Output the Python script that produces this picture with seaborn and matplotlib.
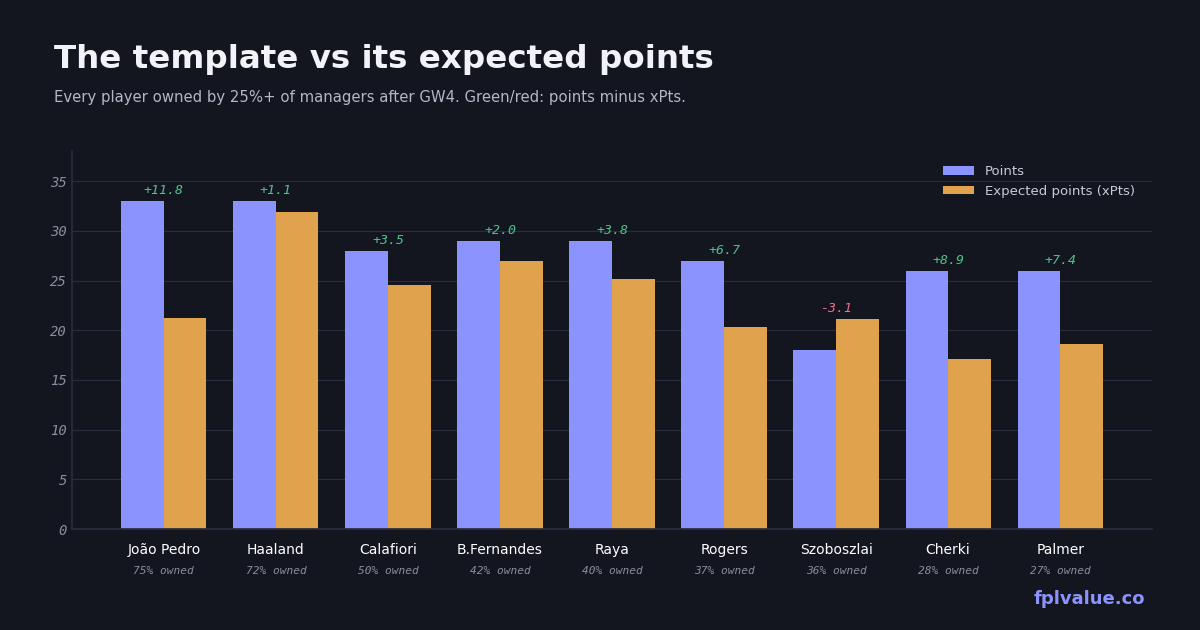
import pandas as pd
import matplotlib.pyplot as plt
import matplotlib.transforms as mtransforms
import seaborn as sns

players = ['João Pedro', 'Haaland', 'Calafiori', 'B.Fernandes', 'Raya',
           'Rogers', 'Szoboszlai', 'Cherki', 'Palmer']
points = [33, 33, 28, 29, 29, 27, 18, 26, 26]
xpts = [21.2, 31.9, 24.5, 27.0, 25.2, 20.3, 21.1, 17.1, 18.6]
owned = [75, 72, 50, 42, 40, 37, 36, 28, 27]

BG = '#13151f'
sns.set_theme(style='dark')
plt.rcParams['font.family'] = ['DejaVu Sans']

df = pd.DataFrame({'Jogador': players * 2,
                   'Valor': points + xpts,
                   'Serie': ['Points'] * 9 + ['Expected points (xPts)'] * 9})

fig = plt.figure(figsize=(12, 6.3), dpi=100, facecolor=BG)
ax = fig.add_axes([0.06, 0.16, 0.90, 0.60], facecolor=BG)
sns.barplot(data=df, x='Jogador', y='Valor', hue='Serie', ax=ax, width=0.76,
            palette=['#8b93ff', '#e0a24c'], saturation=1, linewidth=0)

ax.set_xlim(-0.82, 8.82)
ax.set_ylim(0, 38)
ax.set_yticks(range(0, 36, 5))
ax.grid(axis='y', color='#2a2d3e', linewidth=0.8)
ax.set_axisbelow(True)
ax.set_xlabel('')
ax.set_ylabel('')
for s in ['top', 'right']:
    ax.spines[s].set_visible(False)
for s in ['left', 'bottom']:
    ax.spines[s].set_color('#2a2d3e')
ax.tick_params(axis='y', colors='#8a8ea0', labelsize=10, length=0)
ax.tick_params(axis='x', colors='#ffffff', labelsize=10, length=0, pad=10)
for t in ax.get_yticklabels():
    t.set_family('DejaVu Sans Mono')
    t.set_style('italic')

trans = mtransforms.blended_transform_factory(ax.transData, ax.transAxes)
for i, (p, x, o) in enumerate(zip(points, xpts, owned)):
    d = p - x
    ax.text(i, max(p, x) + 0.4, f'{d:+.1f}', ha='center', va='bottom',
            color='#4cc38a' if d >= 0 else '#f06a8a', fontsize=9.5,
            family='DejaVu Sans Mono', style='italic')
    ax.text(i, -0.11, f'{o}% owned', transform=trans, ha='center', va='center',
            color='#8a8ea0', fontsize=8, family='DejaVu Sans Mono', style='italic')

leg = ax.legend(loc='upper right', frameon=False, fontsize=9.5,
                handlelength=2.4, handleheight=0.6, bbox_to_anchor=(0.995, 0.995))
for t in leg.get_texts():
    t.set_color('#c8cad6')

fig.text(0.045, 0.905, 'The template vs its expected points', color='#f2f3f8',
         fontsize=23.4, fontweight='bold', va='center')
fig.text(0.045, 0.845, 'Every player owned by 25%+ of managers after GW4. Green/red: points minus xPts.',
         color='#b4b7c6', fontsize=10.7, va='center')
fig.text(0.954, 0.05, 'fplvalue.co', color='#8b93ff', fontsize=13,
         fontweight='bold', ha='right', va='center')

fig.savefig('out.png', dpi=100, facecolor=BG)
